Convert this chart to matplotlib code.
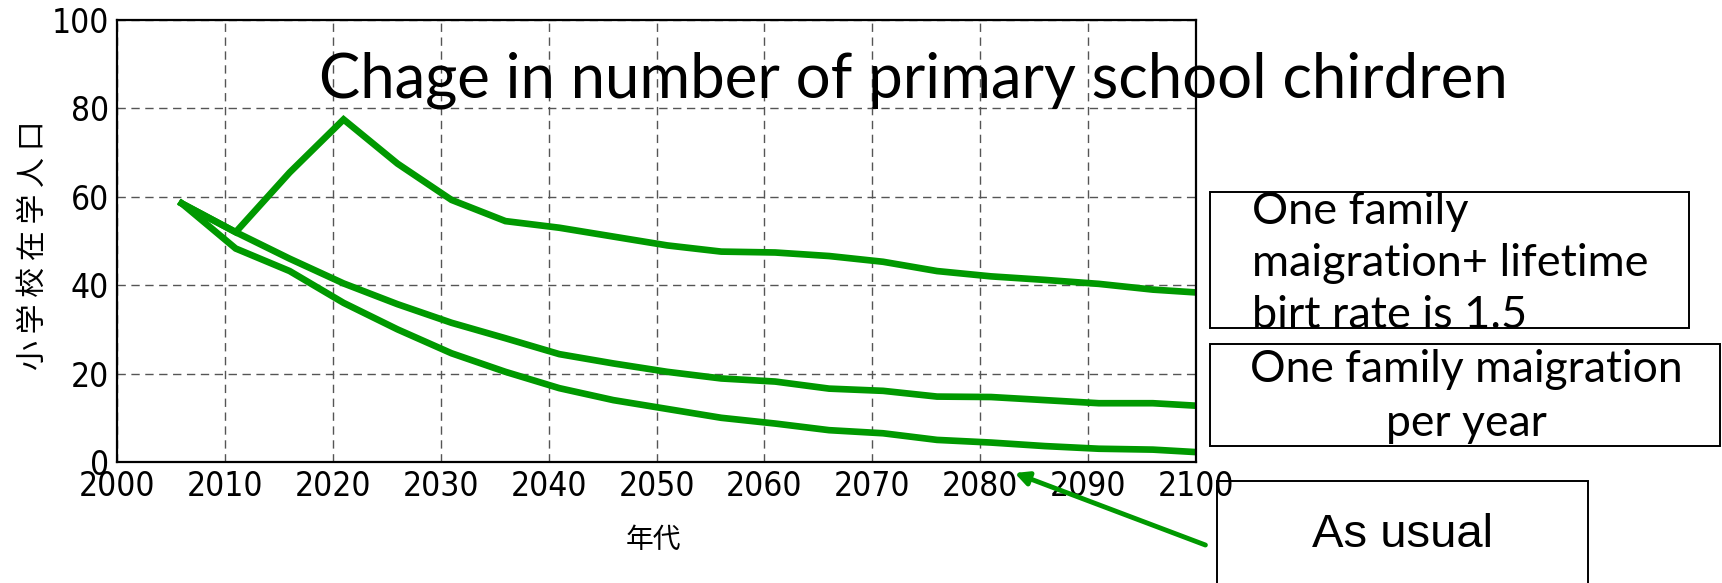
import numpy as np
import matplotlib as mpl
mpl.use("Agg")
import matplotlib.pyplot as plt
from matplotlib.patches import Rectangle
from matplotlib import font_manager

# data (every 5 years, 2006 .. 2101)
years = np.arange(2006, 2102, 5)
birth_rate_15 = [58.5, 52.0, 65.5, 77.5, 67.5, 59.3, 54.5, 53.0, 51.0, 49.0,
                 47.6, 47.4, 46.6, 45.3, 43.2, 42.0, 41.2, 40.3, 39.0, 38.2]
one_family = [58.5, 52.0, 46.0, 40.4, 35.7, 31.5, 28.0, 24.4, 22.3, 20.4,
              18.9, 18.2, 16.6, 16.1, 14.8, 14.7, 14.0, 13.3, 13.3, 12.6]
as_usual = [58.5, 48.3, 43.2, 36.0, 30.0, 24.6, 20.4, 16.7, 14.0, 12.0,
            10.0, 8.7, 7.2, 6.5, 5.0, 4.4, 3.6, 3.0, 2.8, 2.1]

x_ticks = np.arange(2000, 2101, 10)
y_ticks = np.arange(0, 101, 20)

title = "Chage in number of primary school chirdren"
box1_lines = ["One family", "maigration+ lifetime", "birt rate is 1.5"]
box2_lines = ["One family maigration", "per year"]
box3_text = "As usual"

W, H = 1722, 583
GREEN = "#009900"

# a narrow face for the tick numbers if one is around
names = {f.name for f in font_manager.fontManager.ttflist}
print(sorted(n for n in names if "Narrow" in n or "Condensed" in n))
tick_family = ["DejaVu Sans"]
for cand in ("Liberation Sans Narrow", "DejaVu Sans Condensed"):
    if cand in names:
        tick_family = [cand, "DejaVu Sans"]
        break

fig = plt.figure(figsize=(W / 100, H / 100), dpi=100)


def fx(px):
    return px / W


def fy(py):
    # py measured from top of the picture
    return 1 - py / H


ax = fig.add_axes([fx(117), fy(462), fx(1196 - 117), (462 - 20) / H])
for series in (birth_rate_15, one_family, as_usual):
    ax.plot(years, series, color=GREEN, lw=4.8, solid_joinstyle="miter")

ax.set_xlim(2000, 2100)
ax.set_ylim(0, 100)
ax.set_xticks(x_ticks)
ax.set_yticks(y_ticks)
ax.grid(True, ls=(0, (6, 4)), color="#555555", lw=1.0)
ax.tick_params(length=0, pad=6)
for lab in ax.get_xticklabels() + ax.get_yticklabels():
    lab.set_fontfamily(tick_family)
    lab.set_fontstretch("condensed")
    lab.set_fontsize(24)
for sp in ax.spines.values():
    sp.set_linewidth(1.6)
    sp.set_color("black")

# axis labels (Japanese)
fig.text(fx(33), fy(245), " ".join("小学校在学人口"), rotation=90,
         ha="center", va="center", fontsize=21.5,
         family=["Noto Sans CJK JP", "DejaVu Sans"])
fig.text(fx(653), fy(540), "年代", ha="center", va="center", fontsize=20,
         family=["Noto Sans CJK JP", "DejaVu Sans"])

# title sitting on the plot
fig.text(fx(913), fy(80), title, ha="center", va="center", fontsize=44.5,
         family=["Lato", "DejaVu Sans"])

# legend-like boxes
def box(x0, y0, x1, y1):
    fig.patches.append(Rectangle((fx(x0), fy(y1)), fx(x1 - x0), (y1 - y0) / H,
                                 transform=fig.transFigure, fill=False,
                                 ec="black", lw=1.4))


box(1210, 192, 1689, 328)
for i, line in enumerate(box1_lines):
    fig.text(fx(1252), fy(212 + 52 * i), line, ha="left", va="center",
             fontsize=32.5, family=["Lato", "DejaVu Sans"])

box(1210, 344, 1720, 446)
for i, line in enumerate(box2_lines):
    fig.text(fx(1466), fy(370 + 53 * i), line, ha="center", va="center",
             fontsize=32, family=["Lato", "DejaVu Sans"])

box(1217, 481, 1588, 590)
fig.text(fx(1402), fy(535), box3_text, ha="center", va="center", fontsize=34,
         family=["Liberation Sans", "DejaVu Sans"])

# arrow pointing at the "as usual" curve
ax.annotate("", xy=(1012, H - 472), xycoords="figure pixels",
            xytext=(1208, H - 546), textcoords="figure pixels",
            arrowprops=dict(arrowstyle="-|>,head_length=0.8,head_width=0.4",
                            color=GREEN, lw=3.5),
            annotation_clip=False)

fig.savefig("out.png", dpi=100)
